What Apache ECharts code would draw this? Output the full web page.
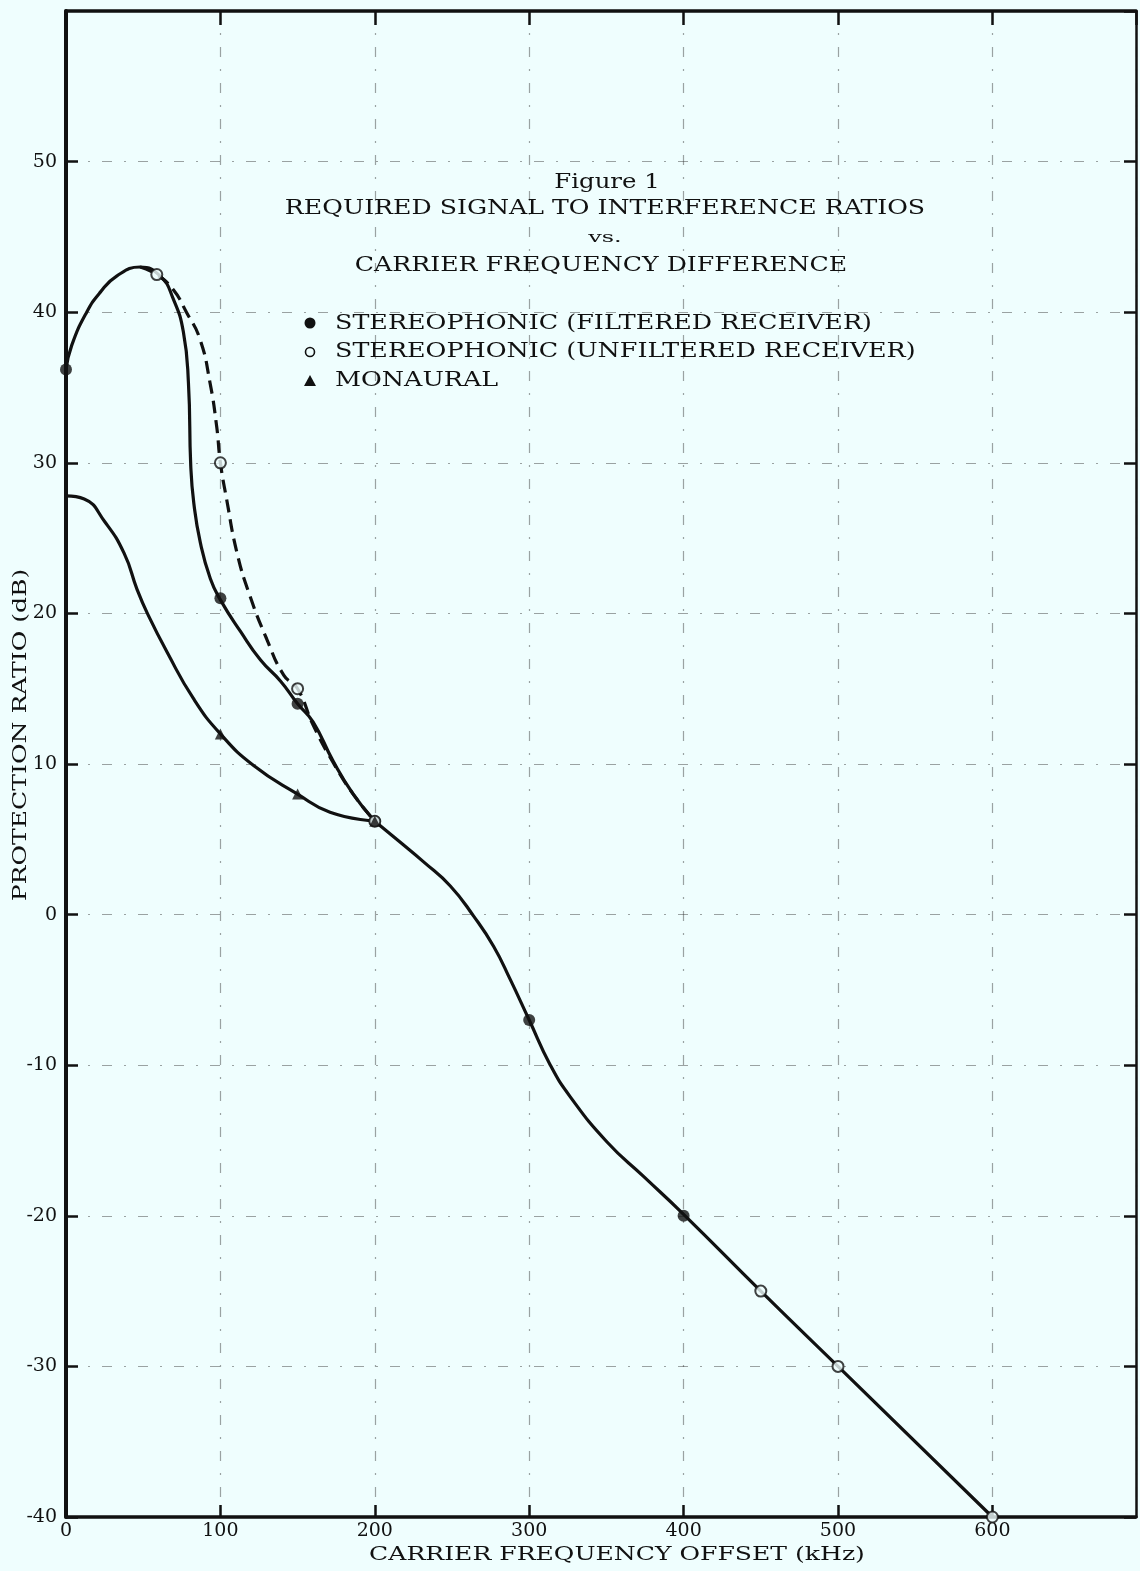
<!DOCTYPE html>
<html>
<head>
<meta charset="utf-8">
<script src="https://cdn.jsdelivr.net/npm/echarts@6/dist/echarts.min.js"></script>
<style>
	html, body { margin: 0; padding: 0; background: #effefe; }
	#chart { width: 1140px; height: 1571px; }
</style>
</head>
<body>
<div id="chart"></div>
<script>
// traced curves, [kHz, dB]
let filteredCurve = [
	[0, 36.2], [3.7, 37.8], [13.4, 40], [22, 41.3], [32.8, 42.4], [48, 43], [61, 42.4], [69.4, 40.9],
	[76, 38.7], [79.3, 35.3], [80.8, 29.8], [82.8, 27.3], [87, 24.7], [93.5, 22.3], [100, 20.9],
	[113, 18.8], [126, 16.9], [139, 15.5], [150, 14], [160, 12.8], [173, 10.2], [186, 8.0], [200, 6.2],
]
let unfilteredCurve = [
	[48, 43], [58.8, 42.5], [69.4, 41.5], [78, 40], [86.8, 38.2], [93.3, 35.3], [97.6, 32.4],
	[100, 30], [104, 27.6], [110.8, 24], [119, 21.2], [130, 18.3], [141, 15.9], [150, 15],
	[160, 12.6], [173, 10.1], [186, 8.0], [200, 6.2],
]
let monauralCurve = [
	[0, 27.8], [11.8, 27.6], [25, 26.1], [37.6, 24], [46, 21.6], [52.7, 20], [65.6, 17.4],
	[82.8, 14.3], [100, 12], [121.5, 9.9], [150, 8], [171, 6.8], [200, 6.2],
]
let commonTail = [
	[200, 6.2], [216.5, 4.8], [231.6, 3.5], [248.9, 1.9], [264, -0.1], [276.9, -2.1], [287.7, -4.3],
	[300, -7], [313.7, -10], [326.6, -12.1], [350.4, -15.1], [374.2, -17.4], [400, -19.9],
	[450, -25], [500, -30], [600, -40],
]
// plotted measurement points
let filteredPoints = [[0, 36.2], [100, 21], [150, 14], [200, 6.2], [300, -7], [400, -20]]
let unfilteredPoints = [[58.8, 42.5], [100, 30], [150, 15], [200, 6.2], [450, -25], [500, -30], [600, -40]]
let monauralPoints = [[100, 12], [150, 8], [200, 6.2]]

let titleLines = ['Figure 1', 'REQUIRED SIGNAL TO INTERFERENCE RATIOS', 'vs.', 'CARRIER FREQUENCY DIFFERENCE']
let legendNames = ['STEREOPHONIC (FILTERED RECEIVER)', 'STEREOPHONIC (UNFILTERED RECEIVER)', 'MONAURAL']
let xName = 'CARRIER FREQUENCY OFFSET (kHz)'
let yName = 'PROTECTION RATIO (dB)'

let ink = '#111'
let paper = '#effefe'
let serif = 'DejaVu Serif'

let gridLine = {
	show: true,
	lineStyle: { color: '#333', width: 1.2, type: [10, 12, 2, 12], opacity: 0.45 },
}

function curve(data, dashed) {
	return {
		type: 'line',
		data: data,
		smooth: 0.5,
		showSymbol: false,
		silent: true,
		z: 3,
		lineStyle: { color: ink, width: 3.2, type: dashed ? [13, 7] : 'solid' },
	}
}

// typewriter style text: the scan is letter spaced, so stretch it a bit
function label(text, x, y, size, sx, extra) {
	return Object.assign({
		type: 'text',
		x: x,
		y: y,
		scaleX: sx,
		z: 20,
		style: { text: text, align: 'center', verticalAlign: 'middle', font: size + 'px "DejaVu Serif"', fill: ink },
	}, extra || {})
}

function legendText(text, y) {
	return {
		type: 'text', x: 335, y: y, scaleX: 1.21, z: 20,
		style: { text: text, align: 'left', verticalAlign: 'middle', font: '21px "DejaVu Serif"', fill: ink },
	}
}

let option = {
	backgroundColor: paper,
	animation: false,
	textStyle: { fontFamily: serif, color: ink },
	grid: { left: 66, right: 4, top: 11, bottom: 54, containLabel: false, outerBoundsMode: 'none' },
	graphic: [
		label(titleLines[0], 607, 183, 20, 1.22),
		label(titleLines[1], 605, 209, 21, 1.2),
		label(titleLines[2], 605, 238, 15, 1.6),
		label(titleLines[3], 601, 266, 21, 1.2),
		{ type: 'circle', shape: { cx: 310, cy: 323, r: 5.5 }, style: { fill: ink }, z: 20 },
		{ type: 'circle', shape: { cx: 310, cy: 352, r: 4.5 }, style: { fill: paper, stroke: ink, lineWidth: 1.6 }, z: 20 },
		{ type: 'polygon', shape: { points: [[310, 375], [316, 386], [304, 386]] }, style: { fill: ink }, z: 20 },
		legendText(legendNames[0], 324),
		legendText(legendNames[1], 352),
		legendText(legendNames[2], 381),
		label(xName, 617, 1555, 19, 1.32),
		label(yName, 21, 735, 19, 1.32, { rotation: Math.PI / 2 }),
	],
	xAxis: [
		{
			type: 'value',
			min: 0,
			max: 693,
			interval: 100,
			axisLine: { show: true, onZero: false, lineStyle: { color: ink, width: 3.5 } },
			axisTick: { show: true, inside: true, length: 12, lineStyle: { color: ink, width: 2.5 } },
			axisLabel: { showMaxLabel: false, fontFamily: serif, fontSize: 19, color: ink, margin: 5 },
			splitLine: gridLine,
		},
		{
			type: 'value',
			position: 'top',
			min: 0,
			max: 693,
			interval: 100,
			axisLine: { show: true, onZero: false, lineStyle: { color: ink, width: 3.5 } },
			axisTick: { show: true, inside: true, length: 14, lineStyle: { color: ink, width: 2.5 } },
			axisLabel: { show: false },
			splitLine: { show: false },
		},
	],
	yAxis: [
		{
			type: 'value',
			min: -40,
			max: 60,
			interval: 10,
			axisLine: { show: true, onZero: false, lineStyle: { color: ink, width: 4 } },
			axisTick: { show: true, inside: true, length: 12, lineStyle: { color: ink, width: 2.5 } },
			axisLabel: { showMaxLabel: false, fontFamily: serif, fontSize: 19, color: ink, margin: 9 },
			splitLine: gridLine,
		},
		{
			type: 'value',
			position: 'right',
			min: -40,
			max: 60,
			interval: 10,
			axisLine: { show: true, onZero: false, lineStyle: { color: ink, width: 2.5 } },
			axisTick: { show: true, inside: true, length: 12, lineStyle: { color: ink, width: 2.5 } },
			axisLabel: { show: false },
			splitLine: { show: false },
		},
	],
	series: [
		curve(filteredCurve, false),
		curve(unfilteredCurve, true),
		curve(monauralCurve, false),
		curve(commonTail, false),
		{
			name: legendNames[0],
			type: 'scatter',
			data: filteredPoints,
			symbol: 'circle',
			symbolSize: 12,
			z: 5,
			itemStyle: { color: ink },
		},
		{
			name: legendNames[1],
			type: 'scatter',
			data: unfilteredPoints,
			symbol: 'circle',
			symbolSize: 11,
			z: 6,
			itemStyle: { color: paper, borderColor: ink, borderWidth: 2 },
		},
		{
			name: legendNames[2],
			type: 'scatter',
			data: monauralPoints,
			symbol: 'triangle',
			symbolSize: 11,
			z: 7,
			itemStyle: { color: ink },
		},
	],
}

let chart = echarts.init(document.getElementById('chart'))
chart.setOption(option)
window.addEventListener('resize', chart.resize)
</script>
</body>
</html>
